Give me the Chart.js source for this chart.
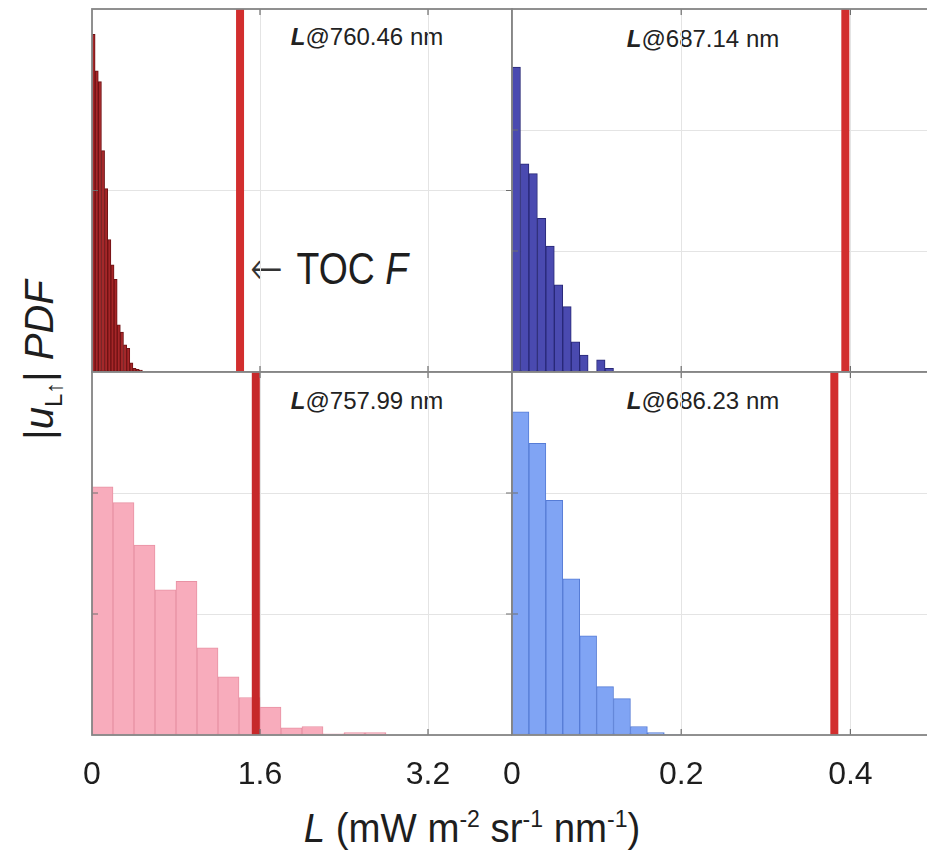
<!DOCTYPE html>
<html>
<head>
<meta charset="utf-8">
<script src="https://cdn.jsdelivr.net/npm/chart.js@4.4.1/dist/chart.umd.min.js"></script>
<style>
    html, body { margin: 0; padding: 0; background: #fff; overflow: hidden; }
    #fig { position: relative; width: 927px; height: 857px; overflow: hidden; }
    #fig canvas { position: absolute; }
    .narrow { position: absolute; font-family: 'Liberation Sans Narrow', 'Arial Narrow', 'Liberation Sans', Arial, sans-serif; color: #1e1e1e; white-space: nowrap; }
    .narrow sup, .narrow sub { font-size: 0.6em; }
    .arrow { font-family: 'DejaVu Sans', sans-serif; font-weight: 200; font-size: 1.05em; color: #333; margin-right: 16px; }
    .tag { position: absolute; font-family: 'Liberation Sans', Arial, sans-serif; font-size: 24px; color: #222; white-space: nowrap; transform: translate(-50%, -50%); }
</style>
</head>
<body>
<div id="fig">
    <div class="tag" style="left:367px; top:37px;"><b><i>L</i></b>@760.46 nm</div>
    <div class="tag" style="left:703px; top:39px;"><b><i>L</i></b>@687.14 nm</div>
    <div class="tag" style="left:367px; top:401px;"><b><i>L</i></b>@757.99 nm</div>
    <div class="tag" style="left:703px; top:401px;"><b><i>L</i></b>@686.23 nm</div>
    <div class="narrow" style="left:250px; top:268px; font-size:44px; transform-origin:left center; transform:translateY(-50%) scaleX(0.85);"><span class="arrow">&larr;</span>TOC <i>F</i></div>
    <div class="narrow" style="left:472px; top:828px; font-size:40px; transform:translate(-50%,-50%) scaleX(0.96);"><i>L</i> (mW m<sup>-2</sup> sr<sup>-1</sup> nm<sup>-1</sup>)</div>
    <div class="narrow" style="left:42px; top:360px; font-size:40px; transform:translate(-50%,-50%) rotate(-90deg);">|<i>u</i><sub>L&uarr;</sub>| <i>PDF</i></div>
</div>
<script>
// Histogram bin heights (relative PDF), one array per wavelength
const binW760 = 0.03;
const pdf760 = [1.86, 1.66, 1.60, 1.22, 1.01, 0.73, 0.59, 0.51, 0.26, 0.22, 0.15, 0.13, 0.05, 0.02, 0.015, 0.01];
const binW687 = 0.01;
const pdf687 = [2.52, 1.72, 1.64, 1.27, 1.04, 0.72, 0.54, 0.25, 0.14, 0, 0.10, 0.03];
const binW758 = 0.2;
const pdf758 = [2.05, 1.92, 1.57, 1.20, 1.27, 0.72, 0.48, 0.31, 0.23, 0.06, 0.07, 0.01, 0.02, 0.02];
const binW686 = 0.02;
const pdf686 = [2.67, 2.41, 1.94, 1.29, 0.82, 0.40, 0.30, 0.07, 0.02, 0.005];

// Top-of-canopy fluorescence for each band
const toc760 = 1.41;
const toc687 = 0.394;
const toc758 = 1.56;
const toc686 = 0.381;

// Axis ticks
const ticksO2A = [0, 1.6, 3.2];
const ticksO2B = [0, 0.2, 0.4];

const fig = document.getElementById('fig');
const tickFont = "'Liberation Sans Narrow', 'Arial Narrow', 'Liberation Sans', Arial, sans-serif";

// Frame around each panel with small inward tick marks
const framePlugin = {
    id: 'frame',
    afterDatasetsDraw(chart) {
        const { ctx, chartArea: a, scales } = chart;
        ctx.save();
        ctx.strokeStyle = '#6e6e6e';
        ctx.lineWidth = 1.2;
        scales.x.ticks.forEach(t => {
            const px = scales.x.getPixelForValue(t.value);
            if (px <= a.left + 1 || px >= a.right - 1) return;
            ctx.beginPath();
            ctx.moveTo(px, a.bottom); ctx.lineTo(px, a.bottom - 6);
            ctx.moveTo(px, a.top); ctx.lineTo(px, a.top + 6);
            ctx.stroke();
        });
        scales.y.ticks.forEach(t => {
            const py = scales.y.getPixelForValue(t.value);
            if (py <= a.top + 1 || py >= a.bottom - 1) return;
            ctx.beginPath();
            ctx.moveTo(a.left, py); ctx.lineTo(a.left + 6, py);
            ctx.moveTo(a.right, py); ctx.lineTo(a.right - 6, py);
            ctx.stroke();
        });
        ctx.strokeStyle = '#858585';
        ctx.lineWidth = 1.8;
        ctx.strokeRect(a.left, a.top, a.right - a.left, a.bottom - a.top);
        ctx.restore();
    }
};

function makePanel(p) {
    const canvas = document.createElement('canvas');
    canvas.width = p.w;
    canvas.height = p.h;
    canvas.style.left = p.left + 'px';
    canvas.style.top = p.top + 'px';
    fig.appendChild(canvas);

    const bars = p.pdf.map((v, i) => ({ x: (i + 0.5) * p.binW, y: v }));

    return new Chart(canvas, {
        type: 'bar',
        data: {
            datasets: [
                {
                    type: 'line',
                    data: [{ x: p.toc, y: 0 }, { x: p.toc, y: p.yMax }],
                    borderColor: p.lineColor,
                    borderWidth: 8,
                    borderCapStyle: 'butt',
                    pointRadius: 0,
                    order: 0
                },
                {
                    data: bars,
                    backgroundColor: p.fill,
                    borderColor: p.edge,
                    borderWidth: 1,
                    borderSkipped: false,
                    barPercentage: 1,
                    categoryPercentage: 1,
                    grouped: false,
                    order: 1
                }
            ]
        },
        options: {
            responsive: false,
            animation: false,
            layout: { padding: { left: 12, right: 4, top: 4, bottom: 4 } },
            plugins: { legend: { display: false }, tooltip: { enabled: false } },
            scales: {
                x: {
                    type: 'linear',
                    min: 0,
                    max: p.xMax,
                    offset: false,
                    afterBuildTicks: scale => { scale.ticks = p.xTicks.map(v => ({ value: v })); },
                    afterFit: scale => {
                        // keep the plot box fixed regardless of label overhang
                        scale.paddingLeft = 0;
                        scale.paddingRight = 0;
                        scale.height = p.showTicks ? 61 : 0;
                    },
                    grid: { color: '#e4e4e4', drawTicks: false, offset: false },
                    border: { display: false },
                    ticks: {
                        display: p.showTicks,
                        maxRotation: 0,
                        autoSkip: false,
                        padding: 21,
                        color: '#1e1e1e',
                        font: { family: tickFont, size: 32 },
                        callback: v => String(v)
                    }
                },
                y: {
                    min: 0,
                    max: p.yMax,
                    ticks: { display: false, stepSize: 1 },
                    grid: { color: '#e4e4e4', drawTicks: false },
                    border: { display: false }
                }
            }
        },
        plugins: [framePlugin]
    });
}

const red = 'rgb(210, 46, 46)';

makePanel({ left: 80, top: 5, w: 436, h: 371, pdf: pdf760, binW: binW760, toc: toc760,
    xMax: 4, xTicks: ticksO2A, yMax: 2, showTicks: false,
    fill: 'rgb(166, 38, 40)', edge: 'rgb(110, 18, 20)', lineColor: red });
makePanel({ left: 500, top: 5, w: 439, h: 371, pdf: pdf687, binW: binW687, toc: toc687,
    xMax: 0.5, xTicks: ticksO2B, yMax: 3, showTicks: false,
    fill: 'rgb(74, 74, 176)', edge: 'rgb(40, 40, 118)', lineColor: red });
makePanel({ left: 80, top: 368, w: 436, h: 432, pdf: pdf758, binW: binW758, toc: toc758,
    xMax: 4, xTicks: ticksO2A, yMax: 3, showTicks: true,
    fill: 'rgb(248, 172, 188)', edge: 'rgb(232, 146, 164)', lineColor: 'rgb(198, 40, 42)' });
makePanel({ left: 500, top: 368, w: 439, h: 432, pdf: pdf686, binW: binW686, toc: toc686,
    xMax: 0.5, xTicks: ticksO2B, yMax: 3, showTicks: true,
    fill: 'rgb(128, 164, 244)', edge: 'rgb(86, 124, 214)', lineColor: red });
</script>
</body>
</html>
